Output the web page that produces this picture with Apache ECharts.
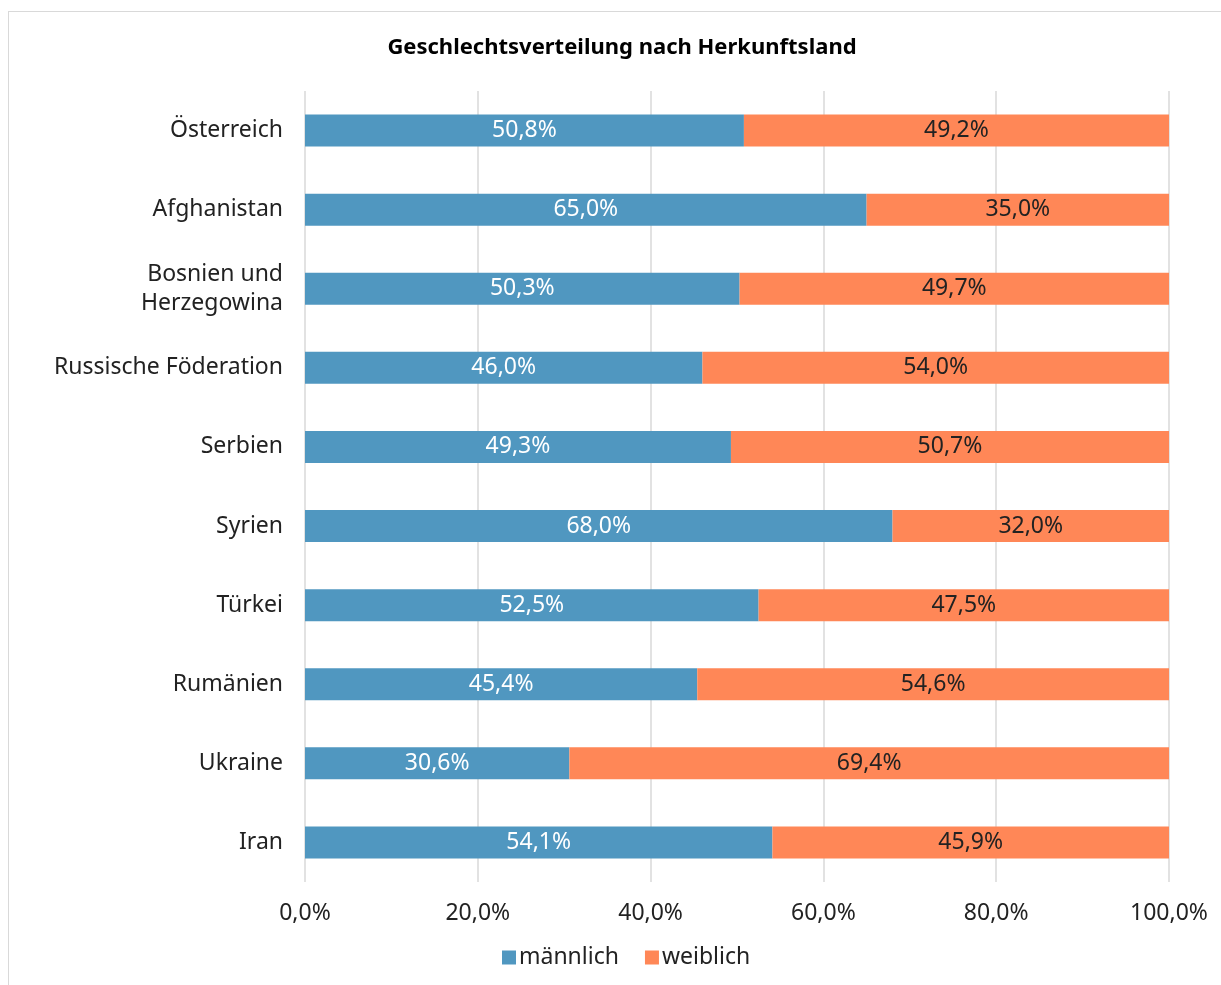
<!DOCTYPE html>
<html>
<head>
<meta charset="utf-8">
<script src="https://cdn.jsdelivr.net/npm/echarts@6/dist/echarts.min.js"></script>
<style>
  html, body { margin: 0; padding: 0; background: #ffffff; }
  #frame { position: absolute; left: 8px; top: 11px; width: 1230px; height: 990px; border: 1px solid #d9d9d9; box-sizing: border-box; }
  #chart { position: absolute; left: 0; top: 0; width: 1221px; height: 985px; }
</style>
</head>
<body>
<div id="frame"></div>
<div id="chart"></div>
<script>
const countries = ['Österreich', 'Afghanistan', 'Bosnien und\nHerzegowina', 'Russische Föderation', 'Serbien', 'Syrien', 'Türkei', 'Rumänien', 'Ukraine', 'Iran']
const maennlich = [50.8, 65.0, 50.3, 46.0, 49.3, 68.0, 52.5, 45.4, 30.6, 54.1]
const weiblich = [49.2, 35.0, 49.7, 54.0, 50.7, 32.0, 47.5, 54.6, 69.4, 45.9]

const fontFamily = '"Noto Sans", "Open Sans", sans-serif'
const fmt = v => v.toFixed(1).replace('.', ',') + '%'

let chart = echarts.init(document.getElementById('chart'))
let option = {
  backgroundColor: 'transparent',
  textStyle: { fontFamily: fontFamily },
  title: {
    text: 'Geschlechtsverteilung nach Herkunftsland',
    left: 617,
    textAlign: 'center',
    top: 32,
    textStyle: { fontSize: 22, fontWeight: 'bold', color: '#000', fontFamily: fontFamily }
  },
  legend: {
    bottom: 11,
    left: 497,
    itemWidth: 14,
    itemHeight: 14,
    itemGap: 26,
    icon: 'rect',
    textStyle: { fontSize: 23, color: '#222', fontFamily: fontFamily, padding: [0, 0, 0, -2] },
    data: ['männlich', 'weiblich']
  },
  grid: {
    left: 305,
    right: 52,
    top: 91,
    bottom: 103,
    containLabel: false
  },
  xAxis: {
    type: 'value',
    min: 0,
    max: 100,
    interval: 20,
    axisLine: { show: false },
    axisTick: { show: false },
    splitLine: { lineStyle: { color: '#d9d9d9', width: 1.5 } },
    axisLabel: {
      formatter: v => fmt(v),
      fontSize: 23,
      color: '#222',
      margin: 20
    }
  },
  yAxis: {
    type: 'category',
    inverse: true,
    data: countries,
    axisLine: { show: false },
    axisTick: { show: false },
    axisLabel: { fontSize: 23, color: '#222', margin: 22, lineHeight: 29, align: 'right' }
  },
  series: [
    {
      name: 'männlich',
      type: 'bar',
      stack: 'total',
      barWidth: 32,
      itemStyle: { color: '#5097c0' },
      label: { show: true, position: 'inside', color: '#fff', fontSize: 23, formatter: p => fmt(p.value) },
      data: maennlich
    },
    {
      name: 'weiblich',
      type: 'bar',
      stack: 'total',
      barWidth: 32,
      itemStyle: { color: '#ff8757' },
      label: { show: true, position: 'inside', color: '#222', fontSize: 23, formatter: p => fmt(p.value) },
      data: weiblich
    }
  ]
}
chart.setOption(option)
</script>
</body>
</html>
